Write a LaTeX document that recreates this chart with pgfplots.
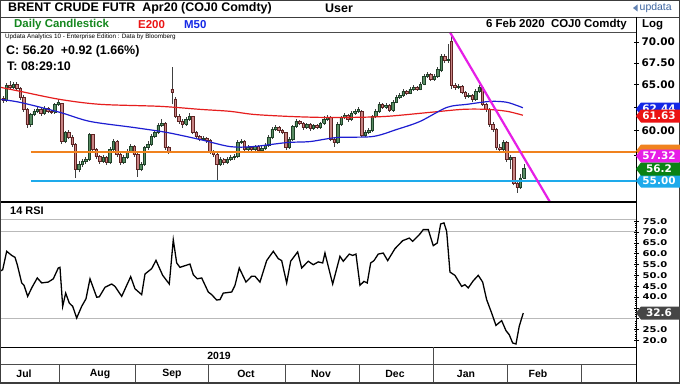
\documentclass[border=0pt]{standalone}
\usepackage{fontspec}
\setmainfont{Liberation Sans}
\newfontfamily\dejavu{DejaVu Sans}
\usepackage{graphicx}
\usepackage{pgfplots}
\usepackage{pgfplotstable}
\pgfplotsset{compat=1.18}

\definecolor{upc}{RGB}{88,140,98}
\definecolor{upd}{RGB}{30,65,40}
\definecolor{dnc}{RGB}{200,132,132}
\definecolor{dnd}{RGB}{95,35,35}
\definecolor{emared}{RGB}{230,30,30}
\definecolor{smablue}{RGB}{30,30,210}
\definecolor{lvlorange}{RGB}{240,130,30}
\definecolor{lvlcyan}{RGB}{30,170,235}
\definecolor{trmag}{RGB}{230,30,230}
\definecolor{tagred}{RGB}{235,20,20}
\definecolor{tagblue}{RGB}{20,40,230}
\definecolor{taggreen}{RGB}{10,130,20}
\definecolor{taggray}{RGB}{70,70,70}
\definecolor{framec}{RGB}{60,60,60}
\definecolor{titlegreen}{RGB}{20,135,30}
\definecolor{logoblue}{RGB}{60,100,160}

\tikzset{
  wick/.style={draw=black!75, line width=0.6bp},
  upbody/.style={draw=upd, fill=upc, line width=0.5bp},
  dnbody/.style={draw=dnd, fill=dnc, line width=0.5bp},
}

\pgfplotstableread{
i o h l c
0 63.50 63.70 63.00 63.25
1 63.20 65.20 63.05 64.93
2 64.93 65.40 64.50 64.71
3 64.71 65.30 64.55 65.05
4 65.05 65.25 64.40 64.60
5 64.60 64.70 63.30 63.58
6 63.58 63.80 62.00 62.26
7 62.26 62.40 60.30 60.65
8 60.65 61.90 60.40 61.72
9 61.72 62.30 61.50 62.05
10 62.05 62.55 61.85 62.26
11 62.26 62.45 61.60 61.83
12 61.83 62.60 61.70 62.37
13 62.37 62.50 61.85 62.05
14 62.05 62.20 61.75 61.94
15 61.94 63.00 61.80 62.81
16 62.81 63.40 62.60 63.03
17 62.90 63.00 58.60 58.87
18 58.87 60.00 58.70 59.81
19 59.81 60.05 59.10 59.29
20 59.29 59.50 58.30 58.57
21 58.57 58.70 55.25 56.06
22 56.06 56.90 55.80 56.55
23 56.55 57.10 56.30 56.85
24 56.85 57.30 56.60 57.05
25 57.05 59.80 56.90 59.60
26 59.60 59.70 57.80 58.06
27 58.06 58.20 57.10 57.35
28 57.35 57.50 56.60 56.85
29 56.85 57.50 56.70 57.25
30 57.25 57.40 56.50 56.75
31 56.75 58.30 56.60 58.06
32 58.06 59.10 57.90 58.87
33 58.87 59.00 57.30 57.56
34 57.56 57.70 56.50 56.75
35 56.75 57.50 56.60 57.25
36 57.25 58.10 57.10 57.86
37 57.86 58.60 57.70 58.36
38 58.36 58.50 57.35 57.56
39 57.56 57.70 55.40 56.06
40 56.06 56.80 55.90 56.55
41 56.55 58.40 56.40 58.26
42 58.26 58.90 58.00 58.57
43 58.57 59.60 58.40 59.39
44 59.39 60.10 59.20 59.81
45 59.81 60.80 59.60 60.54
46 60.54 61.20 60.40 60.76
47 60.76 60.90 58.00 58.26
48 58.26 58.40 57.60 57.86
49 64.49 67.01 62.80 64.15
50 63.40 63.60 61.30 61.51
51 61.51 61.80 60.70 60.97
52 60.97 61.20 60.30 60.65
53 60.65 61.40 60.50 61.18
54 61.18 61.90 61.00 61.51
55 61.51 61.60 59.60 59.81
56 59.81 60.00 59.20 59.39
57 59.39 59.50 58.90 59.08
58 59.08 59.40 58.95 59.18
59 59.18 59.35 58.75 58.97
60 58.97 59.10 57.60 57.86
61 57.86 58.00 57.30 57.56
62 57.56 57.70 54.90 56.55
63 56.55 57.30 56.40 57.05
64 57.05 57.20 56.50 56.75
65 56.75 57.30 56.60 57.05
66 57.05 57.50 56.90 57.25
67 57.25 57.60 57.00 57.35
68 57.35 59.00 57.20 58.77
69 58.77 59.10 58.60 58.87
70 58.87 59.00 57.85 58.06
71 58.06 58.50 57.90 58.26
72 58.26 58.40 57.80 58.06
73 58.06 58.55 57.90 58.36
74 58.36 58.50 57.75 57.96
75 57.96 58.40 57.80 58.16
76 58.16 58.70 58.00 58.46
77 58.46 59.50 58.30 59.29
78 59.29 60.40 59.10 60.13
79 60.13 60.60 60.00 60.34
80 60.34 60.50 59.80 60.02
81 60.02 60.20 59.60 59.81
82 59.81 59.90 58.00 58.26
83 58.26 59.30 58.10 59.08
84 59.08 60.60 58.95 60.44
85 60.44 61.20 60.30 60.97
86 60.97 61.10 60.55 60.76
87 60.76 60.90 60.10 60.34
88 60.34 60.85 60.20 60.65
89 60.65 60.80 60.00 60.23
90 60.23 60.75 60.10 60.54
91 60.54 60.70 60.15 60.34
92 60.34 60.95 60.20 60.76
93 60.76 61.50 60.60 61.18
94 61.18 61.65 61.00 61.40
95 61.40 61.50 58.90 59.08
96 59.08 59.30 58.30 58.77
97 58.77 60.90 58.60 60.65
98 60.65 61.60 60.50 61.40
99 61.40 61.85 61.20 61.62
100 61.62 61.75 60.95 61.18
101 61.18 62.05 61.00 61.83
102 61.83 62.30 61.70 62.05
103 62.05 62.50 61.90 62.26
104 62.05 62.20 59.30 59.50
105 59.50 60.10 59.30 59.81
106 59.81 60.25 59.60 60.02
107 60.02 61.70 59.85 61.51
108 61.51 62.30 61.30 62.05
109 62.05 63.10 61.90 62.81
110 62.81 63.00 62.30 62.48
111 62.48 62.95 62.30 62.70
112 62.70 62.85 61.95 62.15
113 62.15 63.25 62.00 63.03
114 63.03 63.80 62.90 63.58
115 63.58 64.05 63.40 63.80
116 63.80 64.50 63.65 64.25
117 64.25 64.40 63.80 64.03
118 64.03 64.75 63.90 64.49
119 64.49 64.95 64.30 64.71
120 64.71 64.85 64.30 64.49
121 64.49 65.30 64.35 65.05
122 65.05 66.20 64.90 65.97
123 65.97 66.50 65.80 66.18
124 66.18 66.35 65.40 65.63
125 65.63 66.20 65.45 65.97
126 65.97 67.00 65.80 66.78
127 66.60 68.60 66.40 68.31
128 68.31 68.50 67.50 67.83
129 67.83 69.75 67.50 67.95
130 70.12 71.00 64.49 64.93
131 64.93 65.20 64.40 64.71
132 64.71 65.10 64.50 64.82
133 64.82 64.95 63.90 64.14
134 64.14 64.30 63.40 63.69
135 63.69 64.05 63.50 63.80
136 63.80 63.95 63.10 63.35
137 63.35 64.50 63.20 64.25
138 64.25 65.00 64.10 64.71
139 64.71 64.85 62.60 62.81
140 62.81 63.00 62.00 62.26
141 62.26 62.40 60.40 60.65
142 60.65 60.90 59.90 60.13
143 60.13 60.30 58.00 58.26
144 58.26 58.60 57.80 58.06
145 58.06 59.00 57.90 58.77
146 58.77 58.90 56.80 57.05
147 57.05 57.50 56.10 57.25
148 57.25 57.35 54.55 54.80
149 54.80 55.10 53.86 54.33
150 54.40 55.60 54.20 55.28
151 55.28 56.60 55.20 56.20
}\ohlc

\pgfplotstableread{
i v
-0.87 64.71
4.9 64.25
16.5 63.35
28.1 62.81
45.5 62.59
57.1 62.26
65.8 62.05
72.5 61.72
82.3 61.51
91.9 61.40
101.4 61.40
111.3 61.51
123.8 61.94
133.3 62.26
140.3 62.26
146.1 62.05
150.7 61.63
}\emadata

\pgfplotstableread{
i v
-0.87 63.35
4.9 63.03
16.5 61.94
25.2 60.97
37.7 60.34
47.5 59.81
57.1 59.08
65.8 58.36
72.5 58.36
82.3 58.77
89.0 58.87
96.8 59.29
107.2 59.39
114.2 60.13
120.9 60.97
128.7 62.48
134.5 62.81
141.2 63.13
146.1 63.03
150.7 62.44
}\smadata

\pgfplotstableread{
i r
-0.87 51.9
-0.09 52.6
1.07 61.1
2.52 59.2
3.48 58.3
4.14 54.9
5.42 46.5
6.09 45.4
7.16 40.3
8.32 44.2
9.94 48.8
11.22 46.5
13.13 46.9
14.58 48.4
16.03 53.4
16.52 53.7
17.30 35.7
18.17 41.8
19.22 37.2
20.20 35.7
21.36 30.3
22.81 35.7
24.06 39.2
25.22 48.4
27.16 39.9
27.91 40.1
29.57 44.5
31.51 46.0
32.46 44.9
34.41 40.3
37.01 49.4
38.26 43.8
40.20 41.1
41.16 50.6
43.10 53.1
44.35 56.9
46.29 50.0
48.20 46.0
49.36 66.4
50.35 55.7
51.30 53.7
53.04 54.6
54.20 55.2
55.16 50.3
56.32 48.4
57.59 48.8
59.51 42.3
60.49 41.1
61.94 38.6
62.90 38.8
63.86 41.8
66.29 42.3
67.25 45.4
68.49 53.4
70.43 46.9
72.09 49.6
73.04 49.6
74.49 46.9
76.43 56.8
78.35 61.1
79.80 57.7
80.78 56.8
82.23 46.5
83.39 56.5
85.42 60.8
86.58 53.4
88.49 56.5
89.94 54.9
91.39 56.2
92.67 55.7
93.33 60.3
95.57 46.0
97.68 58.8
98.64 56.5
100.38 59.8
101.36 59.2
102.32 59.8
103.48 45.4
104.64 47.2
105.59 46.5
106.58 55.7
107.54 56.8
108.78 59.8
110.23 60.3
111.51 56.8
113.62 62.3
115.86 66.0
117.77 67.2
118.75 65.7
120.87 69.1
121.83 71.1
123.28 71.1
124.72 63.7
125.88 64.9
126.87 73.7
127.83 74.2
128.61 70.3
129.57 51.5
131.01 50.0
132.96 44.9
133.91 45.7
134.87 44.2
136.32 47.5
137.77 50.0
139.04 46.9
140.20 38.8
141.65 32.6
142.90 26.9
144.55 29.1
145.80 24.5
146.75 22.6
147.74 18.8
148.70 18.3
149.65 26.5
150.81 32.6
}\rsidata

\newcommand\pricetag[3]{%
  \fill[#2] (636,#1) -- (641,{#1+6.5}) -- (680,{#1+6.5}) -- (680,{#1-6.5}) -- (641,{#1-6.5}) -- cycle;
  \node[text=white, font=\dejavu\bfseries\fontsize{10.5}{12}\selectfont, inner sep=0pt] at (659,#1) {#3};}
\newcommand\blanktag[2]{%
  \fill[#2] (636,#1) -- (641,{#1+6.5}) -- (680,{#1+6.5}) -- (680,{#1-6.5}) -- (641,{#1-6.5}) -- cycle;}

\begin{document}
\begin{tikzpicture}[x=1bp,y=1bp]
\useasboundingbox (0,0) rectangle (680,383);
\fill[white] (0,0) rectangle (680,383);

% ---------------- price panel ----------------
\begin{axis}[at={(0bp,181bp)}, anchor=south west, scale only axis,
  width=636bp, height=170bp,
  xmin=-0.87, xmax=183.5, ymode=log, ymin=53.0, ymax=71.23,
  axis x line=none, axis y line*=right,
  axis line style={black, line width=1bp},
  ytick={55,57.5,60,62.5,65,67.5,70},
  yticklabels={,,60.00,,65.00,67.50,70.00},
  minor ytick={},
  yticklabel style={font=\dejavu\bfseries\fontsize{10.5}{12}\selectfont, anchor=west, inner sep=0pt, xshift=3bp},
  tick align=center, major tick length=5bp, tick style={black, line width=0.8bp}]
\pgfplotsinvokeforeach{0,...,151}{%
  \pgfplotstablegetelem{#1}{i}\of\ohlc \let\vi\pgfplotsretval
  \pgfplotstablegetelem{#1}{o}\of\ohlc \let\vo\pgfplotsretval
  \pgfplotstablegetelem{#1}{h}\of\ohlc \let\vh\pgfplotsretval
  \pgfplotstablegetelem{#1}{l}\of\ohlc \let\vl\pgfplotsretval
  \pgfplotstablegetelem{#1}{c}\of\ohlc \let\vc\pgfplotsretval
  \pgfmathsetmacro\xa{\vi-0.36}%
  \pgfmathsetmacro\xb{\vi+0.36}%
  \ifdim\vc pt<\vo pt \def\bst{dnbody}\else\def\bst{upbody}\fi
  \edef\temp{\noexpand\addplot[wick] coordinates {(\vi,\vl) (\vi,\vh)};
    \noexpand\addplot[\bst] coordinates {(\xa,\vo) (\xb,\vo) (\xb,\vc) (\xa,\vc) (\xa,\vo)};}%
  \temp
}
\addplot[emared, line width=1.2bp, smooth] table[x=i, y=v] {\emadata};
\addplot[smablue, line width=1.2bp, smooth] table[x=i, y=v] {\smadata};
\addplot[lvlorange, line width=2bp] coordinates {(8.1,57.81) (184,57.81)};
\addplot[lvlcyan, line width=2bp] coordinates {(8.1,55.0) (184,55.0)};
\addplot[trmag, line width=2.2bp] coordinates {(129.57,71.2) (159.2,52.65)};
\end{axis}

% ---------------- RSI panel ----------------
\begin{axis}[at={(0bp,36bp)}, anchor=south west, scale only axis,
  width=636bp, height=145bp,
  xmin=-0.87, xmax=183.5, ymin=16.93, ymax=83.84,
  axis x line=none, axis y line*=right,
  axis line style={black, line width=1bp},
  ytick={20,25,30,35,40,45,50,55,60,65,70,75},
  yticklabels={\scalebox{1}[0.8]{20.0},\scalebox{1}[0.8]{25.0},,,\scalebox{1}[0.8]{40.0},\scalebox{1}[0.8]{45.0},\scalebox{1}[0.8]{50.0},\scalebox{1}[0.8]{55.0},\scalebox{1}[0.8]{60.0},\scalebox{1}[0.8]{65.0},\scalebox{1}[0.8]{70.0},\scalebox{1}[0.8]{75.0}},
  minor y tick num=4,
  yticklabel style={font=\dejavu\bfseries\fontsize{10}{11}\selectfont, anchor=west, inner sep=0pt, xshift=4bp},
  tick align=center, major tick length=5bp, minor tick length=2.5bp,
  tick style={black, line width=0.6bp}]
\addplot[gray!55, line width=1bp] coordinates {(-1,75.54) (184,75.54)};
\addplot[gray!55, line width=1bp] coordinates {(-1,70) (184,70)};
\addplot[gray!55, line width=1bp] coordinates {(-1,30) (184,30)};
\addplot[black, line width=1.3bp] table[x=i, y=r] {\rsidata};
\end{axis}

% ---------------- frames ----------------
\draw[framec, line width=0.8bp] (0,366) -- (680,366);
\draw[black!70, line width=0.8bp] (0,351) -- (636,351);
\draw[black, line width=1bp] (636,366) -- (636,0);
\draw[black, line width=1.5bp] (0,181) -- (636,181);
\draw[black, line width=1bp] (0,36) -- (636,36);
\draw[black!70, line width=0.8bp] (0,18.5) -- (636,18.5);
\draw[black!70, line width=0.8bp] (433,36) -- (433,0);
\foreach \sx in {59,135,208,285,359,507,581}{\draw[black!70, line width=0.8bp] (\sx,18.5) -- (\sx,0);}
\draw[framec, line width=1.5bp] (0,0) rectangle (680,383);

% ---------------- header ----------------
\node[anchor=west, inner sep=0pt, font=\bfseries\fontsize{12.5}{14}\selectfont] at (8,374.5) {BRENT CRUDE FUTR\ \ Apr20 (COJ0 Comdty)};
\node[anchor=west, inner sep=0pt, font=\bfseries\fontsize{12.5}{14}\selectfont] at (325,374.5) {User};
\fill[logoblue!80] (633,375) -- (637.5,378.5) -- (637.5,371.5) -- cycle;
\node[anchor=west, inner sep=0pt, text=logoblue, font=\fontsize{10.5}{12}\selectfont] at (639.5,375) {updata};
\node[anchor=west, inner sep=0pt, text=titlegreen, font=\bfseries\fontsize{11.5}{13}\selectfont] at (14,358.5) {Daily Candlestick};
\node[anchor=west, inner sep=0pt, text=tagred, font=\bfseries\fontsize{11.5}{13}\selectfont] at (138,358.5) {E200};
\node[anchor=west, inner sep=0pt, text=tagblue, font=\bfseries\fontsize{11.5}{13}\selectfont] at (184,358.5) {M50};
\node[anchor=east, inner sep=0pt, font=\bfseries\fontsize{11.5}{13}\selectfont] at (627,358.5) {6 Feb 2020\ \ COJ0 Comdty};
\node[anchor=west, inner sep=0pt, font=\bfseries\fontsize{11.5}{13}\selectfont] at (642,358.5) {Log};
\node[anchor=west, inner sep=0pt, font=\fontsize{6.3}{7}\selectfont] at (5,346) {Updata Analytics 10 - Enterprise Edition : Data by Bloomberg};
\node[anchor=west, inner sep=0pt, font=\bfseries\fontsize{12.5}{14}\selectfont] at (6,331.5) {C: 56.20\ \ +0.92 (1.66\%)};
\node[anchor=west, inner sep=0pt, font=\bfseries\fontsize{12.5}{14}\selectfont] at (7,317) {T: 08:29:10};
\node[anchor=west, inner sep=0pt, font=\bfseries\fontsize{11}{13}\selectfont] at (10,172) {14 RSI};

% ---------------- date bar ----------------
\node[font=\bfseries\fontsize{10.5}{12}\selectfont] at (219,27.5) {2019};
\foreach \lx/\lt in {24/Jul,100/Aug,172/Sep,246/Oct,321/Nov,395/Dec,466/Jan,538/Feb}{
  \node[font=\bfseries\fontsize{10.5}{12}\selectfont] at (\lx,9) {\lt};}

% ---------------- value tags ----------------
\pricetag{274}{tagblue}{62.44}
\pricetag{267}{tagred}{61.63}
\blanktag{232}{lvlorange}
\pricetag{227}{trmag}{57.32}
\pricetag{202}{lvlcyan}{55.00}
\pricetag{214}{taggreen}{56.2}
\pricetag{70}{taggray}{32.6}
\end{tikzpicture}
\end{document}
